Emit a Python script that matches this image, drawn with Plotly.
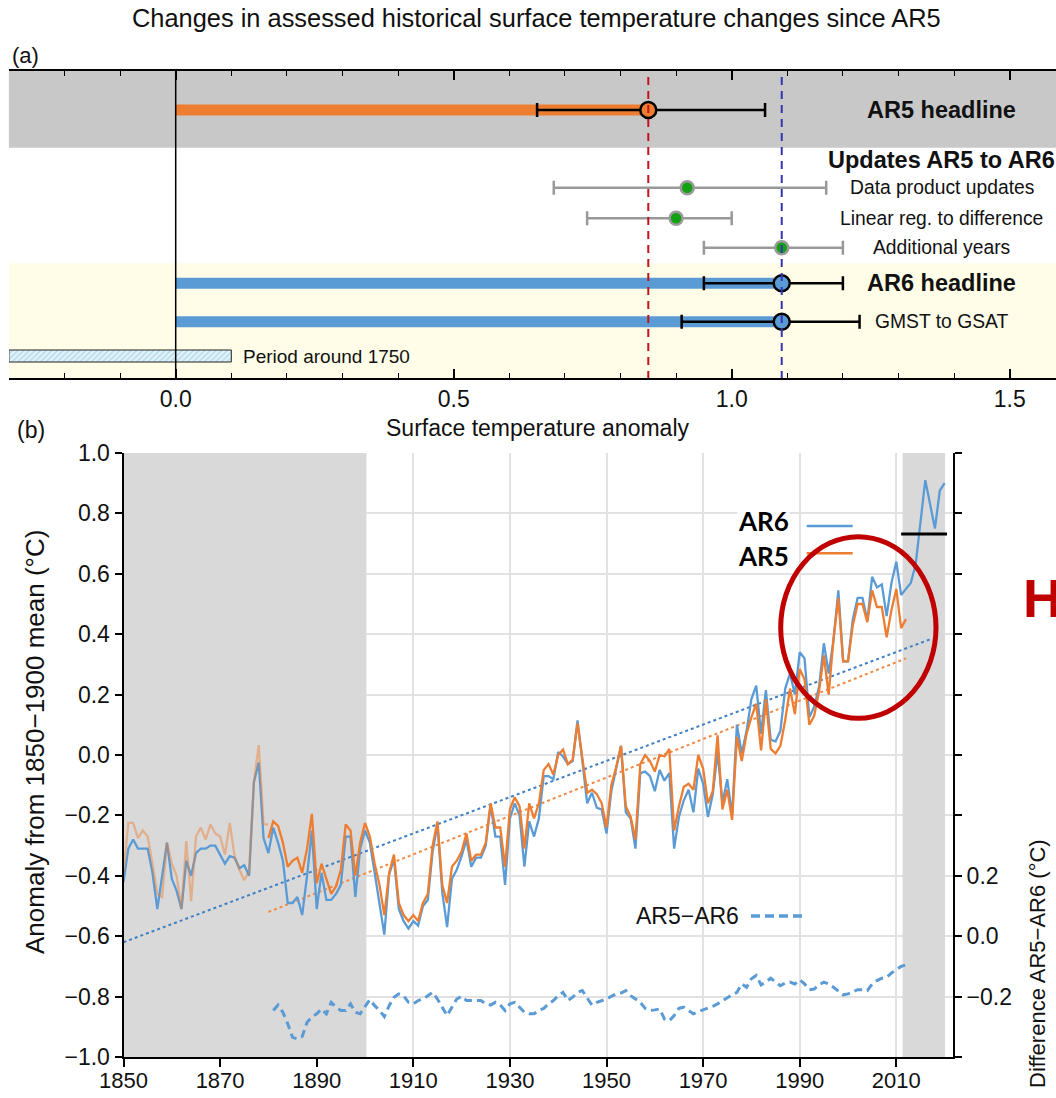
import plotly.graph_objects as go

W, H = 1056, 1098
def px(x): return x / W
def py(y): return 1 - y / H

FONT = "Liberation Sans, Arial, sans-serif"

# ---------------- Panel (a) data ----------------
rows = ["AR5 headline", "Data product updates", "Linear reg. to difference",
        "Additional years", "AR6 headline", "GMST to GSAT"]
best = [0.85, 0.92, 0.90, 1.09, 1.09, 1.09]
low = [0.65, 0.68, 0.74, 0.95, 0.95, 0.91]
high = [1.06, 1.17, 1.00, 1.20, 1.20, 1.23]
kind = ["ar5", "update", "update", "update", "ar6", "ar6"]
header_label = "Updates AR5 to AR6"
period_label = "Period around 1750"
period_range = [-0.3, 0.1]
ar5_ref = 0.85
ar6_ref = 1.09

# ---------------- Panel (b) data ----------------
years_ar6 = list(range(1850, 2021))
ar6 = [-0.42, -0.31, -0.28, -0.31, -0.31, -0.31, -0.39, -0.51, -0.40, -0.29,
       -0.41, -0.45, -0.51, -0.35, -0.40, -0.325, -0.31, -0.31, -0.30, -0.30,
       -0.33, -0.36, -0.335, -0.34, -0.375, -0.365, -0.40, -0.09, -0.025, -0.275,
       -0.325, -0.24, -0.29, -0.35, -0.49, -0.49, -0.47, -0.53, -0.40, -0.25,
       -0.51, -0.39, -0.48, -0.48, -0.46, -0.43, -0.27, -0.27, -0.47, -0.31,
       -0.25, -0.29, -0.39, -0.49, -0.595, -0.395, -0.345, -0.51, -0.55, -0.575,
       -0.55, -0.565, -0.50, -0.48, -0.32, -0.23, -0.455, -0.57, -0.41, -0.38,
       -0.335, -0.28, -0.37, -0.34, -0.34, -0.30, -0.165, -0.27, -0.27, -0.43,
       -0.21, -0.16, -0.20, -0.37, -0.22, -0.27, -0.21, -0.07, -0.07, -0.08,
       0.01, -0.005, -0.03, -0.02, 0.115, -0.02, -0.16, -0.125, -0.175, -0.18,
       -0.26, -0.12, -0.05, 0.03, -0.19, -0.21, -0.31, -0.06, -0.055, -0.07,
       -0.12, -0.05, -0.085, -0.06, -0.31, -0.205, -0.15, -0.115, -0.19, -0.045,
       -0.095, -0.205, -0.13, 0.01, -0.16, -0.08, -0.20, 0.10, 0.005, 0.08,
       0.185, 0.23, 0.07, 0.215, 0.05, 0.045, 0.08, 0.22, 0.27, 0.20,
       0.34, 0.32, 0.125, 0.16, 0.225, 0.37, 0.27, 0.38, 0.545, 0.31,
       0.31, 0.45, 0.52, 0.52, 0.445, 0.59, 0.555, 0.565, 0.46, 0.57,
       0.64, 0.53, 0.55, 0.57, 0.63, 0.775, 0.91, 0.83, 0.75, 0.875,
       0.90]

years_ar5_early = list(range(1850, 1881))
ar5_early = [-0.39, -0.225, -0.225, -0.275, -0.25, -0.27, -0.36, -0.46, -0.47, -0.29,
             -0.36, -0.40, -0.51, -0.285, -0.485, -0.27, -0.24, -0.28, -0.23, -0.26,
             -0.27, -0.33, -0.225, -0.335, -0.38, -0.415, -0.385, -0.09, 0.033, -0.23,
             -0.23]

years_ar5 = list(range(1880, 2013))
ar5 = [-0.275, -0.22, -0.235, -0.29, -0.37, -0.35, -0.34, -0.39, -0.31, -0.195,
       -0.425, -0.36, -0.41, -0.46, -0.435, -0.38, -0.23, -0.25, -0.40, -0.29,
       -0.225, -0.27, -0.36, -0.43, -0.53, -0.39, -0.33, -0.49, -0.53, -0.55,
       -0.53, -0.55, -0.49, -0.46, -0.30, -0.22, -0.43, -0.49, -0.37, -0.35,
       -0.32, -0.26, -0.35, -0.33, -0.33, -0.29, -0.16, -0.24, -0.24, -0.37,
       -0.18, -0.14, -0.17, -0.31, -0.16, -0.21, -0.16, -0.05, -0.03, -0.065,
       0.0, 0.018, -0.03, -0.015, 0.105, -0.01, -0.125, -0.115, -0.13, -0.16,
       -0.24, -0.10, -0.04, 0.03, -0.17, -0.205, -0.28, -0.03, 0.0, -0.02,
       -0.055, 0.0, -0.005, 0.02, -0.25, -0.17, -0.105, -0.095, -0.115, 0.0,
       -0.045, -0.16, -0.12, 0.065, -0.18, -0.115, -0.215, 0.06, -0.02, 0.07,
       0.125, 0.17, 0.015, 0.185, 0.02, 0.005, 0.03, 0.115, 0.22, 0.135,
       0.285, 0.25, 0.10, 0.13, 0.21, 0.33, 0.20, 0.385, 0.52, 0.31,
       0.31, 0.43, 0.50, 0.50, 0.44, 0.545, 0.49, 0.49, 0.39, 0.48,
       0.55, 0.42, 0.45]

years_diff = list(range(1881, 2013))
diff = [-0.246, -0.228, -0.252, -0.29, -0.335, -0.34, -0.332, -0.285, -0.268, -0.257,
        -0.241, -0.257, -0.219, -0.235, -0.246, -0.246, -0.224, -0.252, -0.257, -0.235,
        -0.21, -0.23, -0.246, -0.266, -0.23, -0.202, -0.191, -0.197, -0.219, -0.224,
        -0.213, -0.208, -0.197, -0.186, -0.208, -0.235, -0.263, -0.235, -0.208, -0.199,
        -0.213, -0.213, -0.213, -0.213, -0.224, -0.228, -0.219, -0.228, -0.246, -0.224,
        -0.219, -0.235, -0.252, -0.257, -0.257, -0.246, -0.239, -0.224, -0.213, -0.197,
        -0.186, -0.213, -0.202, -0.186, -0.18, -0.205, -0.228, -0.219, -0.213, -0.208,
        -0.199, -0.191, -0.188, -0.18, -0.197, -0.208, -0.219, -0.239, -0.246, -0.244,
        -0.241, -0.274, -0.28, -0.263, -0.239, -0.235, -0.246, -0.257, -0.25, -0.244,
        -0.239, -0.232, -0.224, -0.213, -0.202, -0.194, -0.186, -0.158, -0.169, -0.141,
        -0.13, -0.161, -0.152, -0.139, -0.152, -0.164, -0.155, -0.152, -0.158, -0.144,
        -0.158, -0.177, -0.175, -0.161, -0.152, -0.158, -0.169, -0.18, -0.194, -0.191,
        -0.183, -0.177, -0.177, -0.18, -0.158, -0.147, -0.139, -0.136, -0.122, -0.11,
        -0.10, -0.095]

trend_ar6_years = [1850, 2017]
trend_ar6 = [-0.62, 0.383]
trend_ar5_years = [1880, 2012]
trend_ar5 = [-0.52, 0.32]

ref_period = [1850, 1900]
recent_period = [2011, 2020]

BLUE = "#5B9BD5"
ORANGE = "#ED7D31"
GREY_BAND = "#d9d9d9"

fig = go.Figure()

# ---------------- Panel (a) ----------------
row_y = [39, 116.7, 147.3, 176.7, 212.3, 250.7]   # layout rows (px-like units)
header_y = 89
period_y = 285

for i, k in enumerate(kind):
    if k in ("ar5", "ar6"):
        fig.add_trace(go.Bar(
            x=[best[i]], y=[row_y[i]], base=0, orientation="h", width=11,
            marker=dict(color=ORANGE if k == "ar5" else BLUE, line=dict(width=0)),
            xaxis="x", yaxis="y", showlegend=False, hoverinfo="skip"))

fig.add_trace(go.Bar(
    x=[period_range[1] - period_range[0]], y=[period_y], base=period_range[0],
    orientation="h", width=12,
    marker=dict(color="#e3f3fa", line=dict(color="#222", width=1),
                pattern=dict(shape="/", fgcolor="#7fbcd8", bgcolor="#e3f3fa",
                             size=4, solidity=0.35)),
    xaxis="x", yaxis="y", showlegend=False, hoverinfo="skip"))

for grp, fill, ecol, msize, mline in [("update", "#13a013", "#999999", 13, "#9a9a9a"),
                                      ("ar5", ORANGE, "#000000", 16, "#000000"),
                                      ("ar6", BLUE, "#000000", 16, "#000000")]:
    idx = [i for i, k in enumerate(kind) if k == grp]
    fig.add_trace(go.Scatter(
        x=[best[i] for i in idx], y=[row_y[i] for i in idx], mode="markers",
        marker=dict(size=msize, color=fill, line=dict(color=mline, width=2.5)),
        error_x=dict(type="data", symmetric=False,
                     array=[high[i] - best[i] for i in idx],
                     arrayminus=[best[i] - low[i] for i in idx],
                     color=ecol, thickness=2.5, width=7),
        xaxis="x", yaxis="y", showlegend=False, hoverinfo="skip"))

# ---------------- Panel (b) ----------------
for (a, b) in [(ref_period[0], ref_period[1] + 0.3), (recent_period[0] + 0.3, recent_period[1] + 0.1)]:
    fig.add_trace(go.Scatter(x=[a, b, b, a, a], y=[-1, -1, 1, 1, -1], mode="lines",
                             fill="toself", fillcolor=GREY_BAND, line=dict(width=0),
                             xaxis="x2", yaxis="y2", showlegend=False, hoverinfo="skip"))

fig.add_trace(go.Scatter(x=trend_ar6_years, y=trend_ar6, mode="lines",
                         line=dict(color="#3f7fc4", width=2, dash="dot"),
                         xaxis="x2", yaxis="y2", showlegend=False, hoverinfo="skip"))
fig.add_trace(go.Scatter(x=trend_ar5_years, y=trend_ar5, mode="lines",
                         line=dict(color="#f08a45", width=2, dash="dot"),
                         xaxis="x2", yaxis="y2", showlegend=False, hoverinfo="skip"))
fig.add_trace(go.Scatter(x=years_ar6, y=ar6, mode="lines",
                         line=dict(color=BLUE, width=2.3),
                         xaxis="x2", yaxis="y2", showlegend=False, hoverinfo="skip"))
fig.add_trace(go.Scatter(x=years_ar5_early, y=ar5_early, mode="lines",
                         line=dict(color="rgba(237,125,49,0.45)", width=2.3),
                         xaxis="x2", yaxis="y2", showlegend=False, hoverinfo="skip"))
fig.add_trace(go.Scatter(x=years_ar5, y=ar5, mode="lines",
                         line=dict(color=ORANGE, width=2.3),
                         xaxis="x2", yaxis="y2", showlegend=False, hoverinfo="skip"))
fig.add_trace(go.Scatter(x=years_diff, y=diff, mode="lines",
                         line=dict(color=BLUE, width=3, dash="8px,5px"),
                         xaxis="x2", yaxis="y3", showlegend=False, hoverinfo="skip"))
recent_vals = [v for y, v in zip(years_ar6, ar6) if recent_period[0] <= y <= recent_period[1]]
recent_mean = sum(recent_vals) / len(recent_vals)
fig.add_trace(go.Scatter(x=[recent_period[0], recent_period[1] + 0.5], y=[recent_mean, recent_mean],
                         mode="lines", line=dict(color="black", width=3),
                         xaxis="x2", yaxis="y2", showlegend=False, hoverinfo="skip"))

shapes = []
# panel (a) bands
shapes.append(dict(type="rect", xref="x domain", yref="y", x0=0, x1=1, y0=0, y1=76.7,
                   fillcolor="#c8c8c8", line=dict(width=0), layer="below"))
shapes.append(dict(type="rect", xref="x domain", yref="y", x0=0, x1=1, y0=192.3, y1=307,
                   fillcolor="#fffde7", line=dict(width=0), layer="below"))
shapes.append(dict(type="line", xref="x", yref="y", x0=0, x1=0, y0=0, y1=307,
                   line=dict(color="black", width=1.5)))
shapes.append(dict(type="line", xref="x", yref="y", x0=ar5_ref, x1=ar5_ref, y0=6, y1=307,
                   line=dict(color="#c0141c", width=2, dash="8px,6px")))
shapes.append(dict(type="line", xref="x", yref="y", x0=ar6_ref, x1=ar6_ref, y0=6, y1=307,
                   line=dict(color="#3535b0", width=2, dash="8px,6px")))
# overlay legend lines
shapes.append(dict(type="line", xref="paper", yref="paper", x0=px(806.7), x1=px(852.7),
                   y0=py(526), y1=py(526), line=dict(color=BLUE, width=2.5)))
shapes.append(dict(type="line", xref="paper", yref="paper", x0=px(806.7), x1=px(852.7),
                   y0=py(553.3), y1=py(553.3), line=dict(color=ORANGE, width=2.5)))
shapes.append(dict(type="line", xref="paper", yref="paper", x0=px(751), x1=px(806),
                   y0=py(916), y1=py(916), line=dict(color=BLUE, width=3.5, dash="9px,5px")))
# red ellipse overlay
shapes.append(dict(type="circle", xref="paper", yref="paper", x0=px(780.7), x1=px(936),
                   y0=py(718.3), y1=py(536.7), line=dict(color="#c00000", width=5)))

ann = []
ann.append(dict(text="Changes in assessed historical surface temperature changes since AR5",
                x=px(536), y=py(18), xref="paper", yref="paper", showarrow=False,
                font=dict(size=25.4, color="#111"), xanchor="center", yanchor="middle"))
ann.append(dict(text="(a)", x=px(10), y=py(55), xref="paper", yref="paper", showarrow=False,
                font=dict(size=22, color="#111"), xanchor="left", yanchor="middle"))
ann.append(dict(text="(b)", x=px(15), y=py(430), xref="paper", yref="paper", showarrow=False,
                font=dict(size=23, color="#111"), xanchor="left", yanchor="middle"))
ann.append(dict(text="Surface temperature anomaly", x=px(537), y=py(428), xref="paper", yref="paper",
                showarrow=False, font=dict(size=23, color="#111"), xanchor="center", yanchor="middle"))
for i, r in enumerate(rows):
    b = kind[i] == "ar5" or r == "AR6 headline"
    ann.append(dict(text=f"<b>{r}</b>" if b else r, x=1.378, y=row_y[i], xref="x", yref="y",
                    showarrow=False, xanchor="center", yanchor="middle",
                    font=dict(size=23.5 if b else 19.3, color="#111")))
ann.append(dict(text=f"<b>{header_label}</b>", x=1.378, y=header_y, xref="x", yref="y",
                showarrow=False, xanchor="center", yanchor="middle", font=dict(size=23.5, color="#111")))
ann.append(dict(text=period_label, x=period_range[1] + 0.017, y=period_y, xref="x", yref="y",
                showarrow=False, xanchor="left", yanchor="middle", font=dict(size=19, color="#111")))
ann.append(dict(text="Anomaly from 1850\u22121900 mean (\u00b0C)", x=px(35), y=py(742),
                xref="paper", yref="paper", showarrow=False, textangle=-90,
                font=dict(size=26, color="#111"), xanchor="center", yanchor="middle"))
ann.append(dict(text="Difference AR5\u2212AR6 (\u00b0C)", x=px(1037), y=py(964),
                xref="paper", yref="paper", showarrow=False, textangle=-90,
                font=dict(size=22, color="#111"), xanchor="center", yanchor="middle"))
ann.append(dict(text="<b>AR6</b>", x=px(737), y=py(521), xref="paper", yref="paper", showarrow=False,
                font=dict(size=26, color="black", family="Lato, Open Sans, sans-serif"),
                xanchor="left", yanchor="middle", bgcolor="white", borderpad=0))
ann.append(dict(text="<b>AR5</b>", x=px(737), y=py(556), xref="paper", yref="paper", showarrow=False,
                font=dict(size=26, color="black", family="Lato, Open Sans, sans-serif"),
                xanchor="left", yanchor="middle", bgcolor="white", borderpad=0))
ann.append(dict(text="AR5\u2212AR6", x=px(741), y=py(916), xref="paper", yref="paper", showarrow=False,
                font=dict(size=23, color="#111"), xanchor="right", yanchor="middle"))
ann.append(dict(text="<b>H</b>", x=px(1021), y=py(598), xref="paper", yref="paper", showarrow=False,
                font=dict(size=54, color="#c00000"), xanchor="left", yanchor="middle"))

right_ticks = [-0.4, -0.2, 0.0, 0.2, 0.4, 0.6, 0.8, 1.0, 1.2, 1.4, 1.6]
right_text = ["" if v not in (-0.2, 0.0, 0.2) else f"{v:.1f}".replace("-", "\u2212") for v in right_ticks]

fig.update_layout(
    width=W, height=H, margin=dict(l=0, r=0, t=0, b=0, autoexpand=False),
    paper_bgcolor="white", plot_bgcolor="rgba(0,0,0,0)",
    font=dict(family=FONT, size=20, color="#111"),
    barmode="overlay", showlegend=False,
    xaxis=dict(domain=[px(8.9), 1], range=[-0.3, 1.5833], anchor="y", automargin=False,
               showline=True, linecolor="black", linewidth=1.5, mirror="ticks",
               ticks="inside", ticklen=9, tickwidth=1.5, tickcolor="black",
               tick0=0, dtick=0.5, tickformat=".1f", showgrid=False, zeroline=False,
               tickfont=dict(size=23),
               minor=dict(ticks="inside", ticklen=5, tickwidth=1.2, tickcolor="black",
                          tick0=0, dtick=0.1, showgrid=False)),
    yaxis=dict(domain=[py(378), py(71)], range=[307, 0], anchor="x", visible=False,
               automargin=False, showgrid=False, zeroline=False, fixedrange=True),
    xaxis2=dict(domain=[px(123.5), px(953)], range=[1850, 2021.74], anchor="y2", automargin=False,
                showline=True, linecolor="black", linewidth=2, ticks="outside",
                ticklen=8, tickwidth=2, tickcolor="black", tick0=1850, dtick=20,
                showgrid=True, gridcolor="#e2e2e2", gridwidth=1.5, zeroline=False,
                tickfont=dict(size=22), ticklabelstandoff=-5),
    yaxis2=dict(domain=[py(1057), py(453)], range=[-1, 1], anchor="x2", automargin=False,
                showline=True, linecolor="black", linewidth=2, ticks="outside",
                ticklen=7, tickwidth=2, tickcolor="black", dtick=0.2, tick0=0,
                tickformat=".1f", showgrid=True, gridcolor="#e2e2e2", gridwidth=1.5,
                zeroline=False, tickfont=dict(size=23)),
    yaxis3=dict(range=[-0.4, 1.6], overlaying="y2", anchor="x2", side="right", automargin=False,
                showline=True, linecolor="black", linewidth=2, ticks="outside",
                ticklen=7, tickwidth=2, tickcolor="black", tickmode="array",
                tickvals=right_ticks, ticktext=right_text, showgrid=False,
                zeroline=False, tickfont=dict(size=23)),
    shapes=shapes, annotations=ann,
)

fig.write_html("out.html")
